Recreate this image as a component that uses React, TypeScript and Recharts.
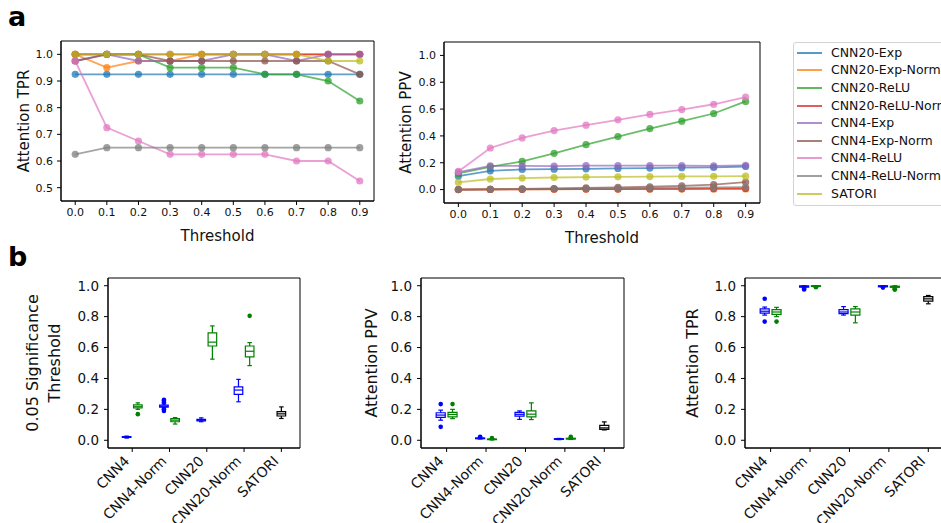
import React from 'react'
import {
  LineChart, Line, ComposedChart, Scatter, XAxis, YAxis,
  ReferenceArea, ReferenceLine, Legend,
} from 'recharts'

const FONT = 'DejaVu Sans'
const TEXT = '#111'

// ---- panel a: attention TPR / PPV by threshold ----
const THRESHOLDS = [0, 0.1, 0.2, 0.3, 0.4, 0.5, 0.6, 0.7, 0.8, 0.9]
const MODELS = [
  'CNN20-Exp', 'CNN20-Exp-Norm', 'CNN20-ReLU', 'CNN20-ReLU-Norm',
  'CNN4-Exp', 'CNN4-Exp-Norm', 'CNN4-ReLU', 'CNN4-ReLU-Norm', 'SATORI',
]
const COLORS = ['#1f77b4', '#ff7f0e', '#2ca02c', '#d62728', '#9467bd', '#8c564b', '#e377c2', '#7f7f7f', '#bcbd22']

const tprCnn20Exp = [0.925, 0.925, 0.925, 0.925, 0.925, 0.925, 0.925, 0.925, 0.925, 0.925]
const tprCnn20ExpNorm = [1.0, 0.95, 0.975, 0.975, 1.0, 1.0, 1.0, 1.0, 1.0, 1.0]
const tprCnn20Relu = [1.0, 1.0, 1.0, 0.95, 0.95, 0.95, 0.925, 0.925, 0.9, 0.825]
const tprCnn20ReluNorm = [1.0, 1.0, 1.0, 1.0, 1.0, 1.0, 1.0, 1.0, 1.0, 1.0]
const tprCnn4Exp = [0.975, 1.0, 0.975, 0.975, 0.975, 1.0, 1.0, 0.975, 1.0, 1.0]
const tprCnn4ExpNorm = [0.975, 1.0, 1.0, 0.975, 0.975, 0.975, 0.975, 0.975, 0.975, 0.925]
const tprCnn4Relu = [0.975, 0.725, 0.675, 0.625, 0.625, 0.625, 0.625, 0.6, 0.6, 0.525]
const tprCnn4ReluNorm = [0.625, 0.65, 0.65, 0.65, 0.65, 0.65, 0.65, 0.65, 0.65, 0.65]
const tprSatori = [1.0, 1.0, 1.0, 1.0, 1.0, 1.0, 1.0, 1.0, 0.975, 0.975]

const ppvCnn20Exp = [0.1, 0.14, 0.15, 0.152, 0.155, 0.158, 0.16, 0.163, 0.165, 0.172]
const ppvCnn20ExpNorm = [0.0, 0.001, 0.002, 0.002, 0.003, 0.003, 0.004, 0.004, 0.005, 0.005]
const ppvCnn20Relu = [0.12, 0.17, 0.21, 0.27, 0.335, 0.395, 0.455, 0.51, 0.567, 0.657]
const ppvCnn20ReluNorm = [0.0, 0.001, 0.002, 0.003, 0.004, 0.004, 0.005, 0.006, 0.007, 0.008]
const ppvCnn4Exp = [0.13, 0.177, 0.177, 0.175, 0.178, 0.178, 0.178, 0.178, 0.176, 0.18]
const ppvCnn4ExpNorm = [0.0, 0.002, 0.005, 0.008, 0.012, 0.016, 0.021, 0.028, 0.037, 0.055]
const ppvCnn4Relu = [0.135, 0.31, 0.385, 0.44, 0.48, 0.52, 0.56, 0.596, 0.636, 0.69]
const ppvCnn4ReluNorm = [0.0, 0.002, 0.004, 0.006, 0.008, 0.01, 0.012, 0.014, 0.016, 0.018]
const ppvSatori = [0.054, 0.079, 0.086, 0.09, 0.093, 0.095, 0.097, 0.098, 0.099, 0.1]

const TPR_VALUES = [tprCnn20Exp, tprCnn20ExpNorm, tprCnn20Relu, tprCnn20ReluNorm, tprCnn4Exp, tprCnn4ExpNorm, tprCnn4Relu, tprCnn4ReluNorm, tprSatori]
const PPV_VALUES = [ppvCnn20Exp, ppvCnn20ExpNorm, ppvCnn20Relu, ppvCnn20ReluNorm, ppvCnn4Exp, ppvCnn4ExpNorm, ppvCnn4Relu, ppvCnn4ReluNorm, ppvSatori]

const TPR_TICKS = [0.5, 0.6, 0.7, 0.8, 0.9, 1.0]
const PPV_TICKS = [0, 0.2, 0.4, 0.6, 0.8, 1.0]

// ---- panel b: box plots, stats are [low whisker, q1, median, q3, high whisker] ----
type Stats = [number, number, number, number, number]
const BOX_CATS = ['CNN4', 'CNN4-Norm', 'CNN20', 'CNN20-Norm', 'SATORI']
const BOX_TICKS = [0, 0.2, 0.4, 0.6, 0.8, 1.0]

const sigBlue: Stats[] = [
  [0.014, 0.018, 0.02, 0.023, 0.027],
  [0.21, 0.215, 0.22, 0.228, 0.235],
  [0.12, 0.125, 0.13, 0.135, 0.145],
  [0.249, 0.297, 0.325, 0.346, 0.394],
]
const sigBlueFliers = [[], [0.19, 0.2, 0.245, 0.255, 0.262], [], []]
const sigGreen: Stats[] = [
  [0.2, 0.21, 0.22, 0.23, 0.242],
  [0.105, 0.12, 0.13, 0.14, 0.147],
  [0.525, 0.61, 0.635, 0.695, 0.74],
  [0.483, 0.539, 0.576, 0.61, 0.632],
]
const sigGreenFliers = [[0.169], [], [], [0.805]]
const sigSatori: Stats = [0.141, 0.157, 0.171, 0.185, 0.216]

const ppvBlue: Stats[] = [
  [0.13, 0.148, 0.163, 0.178, 0.195],
  [0.008, 0.01, 0.012, 0.015, 0.02],
  [0.135, 0.156, 0.168, 0.18, 0.19],
  [0.004, 0.006, 0.008, 0.01, 0.012],
]
const ppvBlueFliers = [[0.087, 0.234], [0.022], [], []]
const ppvGreen: Stats[] = [
  [0.14, 0.152, 0.167, 0.18, 0.2],
  [0.002, 0.004, 0.006, 0.008, 0.011],
  [0.134, 0.151, 0.169, 0.19, 0.242],
  [0.005, 0.008, 0.01, 0.013, 0.016],
]
const ppvGreenFliers = [[0.234], [0.014], [], [0.022]]
const ppvSatoriBox: Stats = [0.067, 0.07, 0.08, 0.097, 0.119]

const tprBlue: Stats[] = [
  [0.81, 0.823, 0.835, 0.85, 0.862],
  [0.99, 0.99, 0.995, 1.0, 1.0],
  [0.81, 0.82, 0.83, 0.845, 0.865],
  [0.99, 0.993, 0.996, 1.0, 1.0],
]
const tprBlueFliers = [[0.768, 0.916], [0.98, 0.976], [], [0.988]]
const tprGreen: Stats[] = [
  [0.8, 0.815, 0.83, 0.845, 0.86],
  [0.993, 0.995, 0.998, 1.0, 1.0],
  [0.76, 0.81, 0.83, 0.85, 0.865],
  [0.985, 0.99, 0.993, 0.997, 1.0],
]
const tprGreenFliers = [[0.768], [0.99], [], [0.978, 0.975]]
const tprSatoriBox: Stats = [0.883, 0.9, 0.915, 0.93, 0.937]

const BOX_HALF = 0.115
const CAP_HALF = 0.06
const PAIR_OFFSET = 0.15
const X_DOMAIN: [number, number] = [-0.65, 4.5]
const Y_DOMAIN: [number, number] = [-0.05, 1.05]

interface BoxItem { pos: number; s: Stats; fliers: number[]; color: string }

function buildBoxes(blue: Stats[], blueF: number[][], green: Stats[], greenF: number[][], satori: Stats): BoxItem[] {
  const out: BoxItem[] = []
  blue.forEach((s, i) => out.push({ pos: i - PAIR_OFFSET, s, fliers: blueF[i], color: 'blue' }))
  green.forEach((s, i) => out.push({ pos: i + PAIR_OFFSET, s, fliers: greenF[i], color: 'green' }))
  out.push({ pos: 4, s: satori, fliers: [], color: 'black' })
  return out
}

const rowsFor = (values: number[][]) =>
  THRESHOLDS.map((t, i) => {
    const row: Record<string, number> = { t }
    MODELS.forEach((m, k) => { row[m] = values[k][i] })
    return row
  })

const vTitle = (lines: { text: string; x: number }[], fontSize: number, dy = 0) => (props: any) => {
  const vb = props.viewBox || {}
  const cy = vb.y + vb.height / 2 + dy
  return (
    <g>
      {lines.map((l) => (
        <text key={l.text} transform={`translate(${l.x},${cy}) rotate(-90)`} textAnchor="middle"
          dominantBaseline="central" fontSize={fontSize} fill={TEXT} fontFamily={FONT}>{l.text}</text>
      ))}
    </g>
  )
}

const hTitle = (text: string, dy: number, fontSize: number) => (props: any) => {
  const vb = props.viewBox || {}
  return (
    <text x={vb.x + vb.width / 2} y={vb.y + dy} textAnchor="middle" dominantBaseline="central"
      fontSize={fontSize} fill={TEXT} fontFamily={FONT}>{text}</text>
  )
}

const fmt1 = (v: number) => v.toFixed(1)

function LegendBox() {
  return (
    <div style={{ border: '1px solid #d3d3d3', borderRadius: 3, background: '#fff', padding: '1px 0 3px 3px', width: 170, fontFamily: FONT }}>
      {MODELS.map((m, i) => (
        <div key={m} style={{ height: 17.6, display: 'flex', alignItems: 'center', whiteSpace: 'nowrap' }}>
          <svg width={25} height={4} style={{ display: 'block' }}>
            <line x1={0} x2={25} y1={2} y2={2} stroke={COLORS[i]} strokeWidth={2} strokeOpacity={0.75} />
          </svg>
          <span style={{ marginLeft: 9, fontSize: 12.5, color: TEXT, lineHeight: '14px' }}>{m}</span>
        </div>
      ))}
    </div>
  )
}

function ThresholdChart({ values, domain, ticks, title, titleX, width, yWidth, right, top, xHeight, legend }: any) {
  const rows = rowsFor(values)
  return (
    <LineChart width={width} height={250} data={rows} margin={{ top, right, bottom: 0, left: 0 }}>
      <XAxis dataKey="t" type="number" domain={[-0.045, 0.945]} ticks={THRESHOLDS} tickFormatter={fmt1}
        height={xHeight} tickSize={4} tickMargin={3} stroke="#000" tick={{ fontSize: 11, fill: TEXT }}
        label={hTitle('Threshold', 35, 15)} />
      <YAxis type="number" domain={domain} ticks={ticks} tickFormatter={fmt1} width={yWidth}
        tickSize={4} tickMargin={4} stroke="#000" tick={{ fontSize: 11, fill: TEXT }}
        label={vTitle([{ text: title, x: titleX }], 15)} />
      <ReferenceArea x1={-0.045} x2={0.945} y1={domain[0]} y2={domain[1]} fill="none" stroke="#000" strokeWidth={1} ifOverflow="visible" />
      {MODELS.map((m, i) => (
        <Line key={m} dataKey={m} name={m} stroke={COLORS[i]} strokeOpacity={0.7} strokeWidth={1.8}
          dot={{ r: 3.6, fill: COLORS[i], fillOpacity: 0.75, stroke: 'none' }} activeDot={false}
          isAnimationActive={false} />
      ))}
      {legend && (
        <Legend layout="vertical" align="center" verticalAlign="middle"
          wrapperStyle={{ left: 413, top: 42, width: 180 }} content={() => <LegendBox />} />
      )}
    </LineChart>
  )
}

function RotTick(props: any) {
  const { x, y, payload } = props
  const ax = x - 2
  const ay = y + 7
  return (
    <text x={ax} y={ay} transform={`rotate(-45, ${ax}, ${ay})`} textAnchor="end" fontSize={14} fill={TEXT} fontFamily={FONT}>
      {BOX_CATS[payload.value]}
    </text>
  )
}

function BoxPanel({ boxes, width, yWidth, right, titles }: { boxes: BoxItem[]; width: number; yWidth: number; right: number; titles: { text: string; x: number }[] }) {
  const marks = boxes.flatMap((b, i) => {
    const [lo, q1, med, q3, hi] = b.s
    const ln = { stroke: b.color, strokeWidth: 1.2, ifOverflow: 'visible' as const }
    return [
      <ReferenceLine key={`wl${i}`} segment={[{ x: b.pos, y: lo }, { x: b.pos, y: q1 }]} {...ln} />,
      <ReferenceLine key={`wh${i}`} segment={[{ x: b.pos, y: q3 }, { x: b.pos, y: hi }]} {...ln} />,
      <ReferenceLine key={`cl${i}`} segment={[{ x: b.pos - CAP_HALF, y: lo }, { x: b.pos + CAP_HALF, y: lo }]} {...ln} />,
      <ReferenceLine key={`ch${i}`} segment={[{ x: b.pos - CAP_HALF, y: hi }, { x: b.pos + CAP_HALF, y: hi }]} {...ln} />,
      <ReferenceArea key={`bx${i}`} x1={b.pos - BOX_HALF} x2={b.pos + BOX_HALF} y1={q1} y2={q3}
        fill="none" stroke={b.color} strokeWidth={1.2} ifOverflow="visible" />,
      <ReferenceLine key={`md${i}`} segment={[{ x: b.pos - BOX_HALF, y: med }, { x: b.pos + BOX_HALF, y: med }]} {...ln} />,
    ]
  })
  const fliersBy = (color: string) =>
    boxes.filter((b) => b.color === color).flatMap((b) => b.fliers.map((v) => ({ x: b.pos, y: v })))
  return (
    <ComposedChart width={width} height={263} margin={{ top: 18, right, bottom: 0, left: 0 }}>
      <XAxis dataKey="x" type="number" domain={X_DOMAIN} ticks={[0, 1, 2, 3, 4]} height={75}
        tickSize={4} tickMargin={3} stroke="#000" tick={<RotTick />} interval={0} allowDataOverflow />
      <YAxis dataKey="y" type="number" domain={Y_DOMAIN} ticks={BOX_TICKS} tickFormatter={fmt1} width={yWidth}
        tickSize={4} tickMargin={5} stroke="#000" tick={{ fontSize: 13.5, fill: TEXT }} allowDataOverflow
        label={vTitle(titles, 16)} />
      <ReferenceArea x1={X_DOMAIN[0]} x2={X_DOMAIN[1]} y1={Y_DOMAIN[0]} y2={Y_DOMAIN[1]} fill="none" stroke="#000" strokeWidth={1} ifOverflow="visible" />
      {marks}
      {['blue', 'green'].map((c) => (
        <Scatter key={c} data={fliersBy(c)} fill={c} isAnimationActive={false}
          shape={(p: any) => <circle cx={p.cx} cy={p.cy} r={2.3} fill={c} />} />
      ))}
    </ComposedChart>
  )
}

export default function App() {
  const sigBoxes = buildBoxes(sigBlue, sigBlueFliers, sigGreen, sigGreenFliers, sigSatori)
  const ppvBoxes = buildBoxes(ppvBlue, ppvBlueFliers, ppvGreen, ppvGreenFliers, ppvSatoriBox)
  const tprBoxes = buildBoxes(tprBlue, tprBlueFliers, tprGreen, tprGreenFliers, tprSatoriBox)
  return (
    <div style={{ position: 'fixed', left: 0, top: 0, width: 941, height: 523, overflow: 'hidden', background: '#fff', fontFamily: FONT }}>
      <div style={{ position: 'absolute', left: 0, top: 0 }}>
        <ThresholdChart values={TPR_VALUES} domain={[0.45, 1.05]} ticks={TPR_TICKS} title="Attention TPR"
          titleX={24} width={380} yWidth={61} right={6} top={41} xHeight={49} />
      </div>
      <div style={{ position: 'absolute', left: 380, top: 0 }}>
        <ThresholdChart values={PPV_VALUES} domain={[-0.1, 1.1]} ticks={PPV_TICKS} title="Attention PPV"
          titleX={26} width={561} yWidth={64} right={181} top={42} xHeight={47} legend />
      </div>
      <div style={{ position: 'absolute', left: 0, top: 260 }}>
        <BoxPanel boxes={sigBoxes} width={310} yWidth={108} right={10}
          titles={[{ text: '0.05 Significance', x: 32.5 }, { text: 'Threshold', x: 54 }]} />
      </div>
      <div style={{ position: 'absolute', left: 310, top: 260 }}>
        <BoxPanel boxes={ppvBoxes} width={320} yWidth={111} right={6}
          titles={[{ text: 'Attention PPV', x: 61 }]} />
      </div>
      <div style={{ position: 'absolute', left: 630, top: 260 }}>
        <BoxPanel boxes={tprBoxes} width={318} yWidth={115} right={0}
          titles={[{ text: 'Attention TPR', x: 62.5 }]} />
      </div>
      <svg width={941} height={523} style={{ position: 'absolute', left: 0, top: 0, pointerEvents: 'none' }}>
        <text x={8} y={26} fontSize={27} fontWeight="bold" fill="#000" fontFamily={FONT}>a</text>
        <text x={8} y={266} fontSize={27} fontWeight="bold" fill="#000" fontFamily={FONT}>b</text>
      </svg>
    </div>
  )
}
